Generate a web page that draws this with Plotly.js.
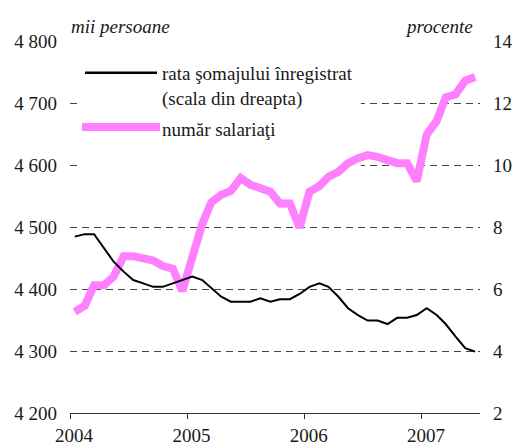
<!DOCTYPE html>
<html>
<head>
<meta charset="utf-8">
<script src="https://cdn.plot.ly/plotly-3.0.1.min.js"></script>
</head>
<body style="margin:0">
<div id="chart" style="width:516px;height:448px"></div>
<script>
// Months: Jan 2004 .. Jun 2007 (42 monthly observations)
const startYear = 2004;
const nMonths = 42;
const yearTicks = ['2004', '2005', '2006', '2007'];

// Registered unemployment rate (%, right scale)
const unemploymentRate = [
  7.69, 7.77, 7.77, 7.31, 6.88, 6.56, 6.29, 6.18, 6.07, 6.07, 6.18, 6.29,
  6.40, 6.29, 6.02, 5.75, 5.59, 5.59, 5.59, 5.70, 5.59, 5.67, 5.67, 5.84,
  6.07, 6.18, 6.07, 5.75, 5.38, 5.16, 4.98, 4.98, 4.87, 5.07, 5.07, 5.16,
  5.38, 5.16, 4.87, 4.46, 4.09, 3.98
];

// Number of employees (thousand persons, left scale)
const employees = [
  4363, 4373, 4406, 4406, 4420, 4453, 4453, 4451, 4446, 4437, 4433, 4397,
  4452, 4505, 4540, 4552, 4558, 4579, 4568, 4564, 4557, 4538, 4538, 4499,
  4557, 4566, 4581, 4589, 4603, 4611, 4616, 4613, 4608, 4603, 4603, 4574,
  4649, 4671, 4709, 4714, 4736, 4742
];

const leftTickVals = [4200, 4300, 4400, 4500, 4600, 4700, 4800];
const leftTickText = ['4 200', '4 300', '4 400', '4 500', '4 600', '4 700', '4 800'];
const rightTickVals = [2, 4, 6, 8, 10, 12, 14];

const seriesNames = ['rata şomajului înregistrat', '(scala din dreapta)', 'număr salariaţi'];

function pad(n){ return (n < 10 ? '0' : '') + n; }
const months = [];
for (let i = 0; i < nMonths; i++) {
  const y = startYear + Math.floor(i / 12);
  const m = (i % 12) + 1;
  months.push(y + '-' + pad(m) + '-16');
}

const fam = 'Times New Roman';

const traces = [
  {
    x: months, y: employees, yaxis: 'y', type: 'scatter', mode: 'lines',
    line: {color: '#ff80ff', width: 8}, name: seriesNames[2], showlegend: false,
    hoverinfo: 'skip'
  },
  {
    x: months, y: unemploymentRate, yaxis: 'y2', type: 'scatter', mode: 'lines',
    line: {color: '#000000', width: 2}, name: seriesNames[0], showlegend: false,
    hoverinfo: 'skip'
  }
];

const layout = {
  width: 516, height: 448,
  margin: {l: 70, r: 36, t: 41, b: 35},
  font: {family: fam, size: 19, color: '#1a1a1a'},
  showlegend: false,
  xaxis: {
    type: 'date',
    range: ['2004-01-01', '2007-07-01'],
    tickvals: yearTicks.map(function(y){ return y + '-01-01'; }),
    ticktext: yearTicks,
    showgrid: false, zeroline: false,
    showline: true, linecolor: '#333333', linewidth: 1,
    ticks: 'outside', ticklen: 5, tickcolor: '#333333', tickwidth: 1,
    ticklabelshift: 4
  },
  yaxis: {
    range: [4200, 4800],
    tickvals: leftTickVals, ticktext: leftTickText,
    showgrid: true, gridcolor: '#444444', gridwidth: 1, griddash: '7px,5px',
    zeroline: false, showline: false, ticks: '',
    ticklabelstandoff: 12
  },
  yaxis2: {
    range: [2, 14], overlaying: 'y', side: 'right',
    tickvals: rightTickVals,
    showgrid: false, zeroline: false, showline: false, ticks: '',
    ticklabelstandoff: 12
  },
  shapes: [
    {type: 'rect', xref: 'x', yref: 'y', layer: 'between',
     x0: '2004-02-01', x1: '2006-06-25', y0: 4580, y1: 4720,
     fillcolor: '#ffffff', line: {width: 0}},
    {type: 'line', xref: 'paper', yref: 'paper',
     x0: 0.0366, x1: 0.2122, y0: 0.9148, y1: 0.9148,
     line: {color: '#000000', width: 2.5}},
    {type: 'line', xref: 'paper', yref: 'paper',
     x0: 0.0293, x1: 0.2195, y0: 0.7688, y1: 0.7688,
     line: {color: '#ff80ff', width: 8}}
  ],
  annotations: [
    {xref: 'paper', yref: 'paper', x: -0.002, y: 1.04, xanchor: 'left', yanchor: 'middle',
     text: '<i>mii persoane</i>', showarrow: false},
    {xref: 'paper', yref: 'paper', x: 0.987, y: 1.04, xanchor: 'right', yanchor: 'middle',
     text: '<i>procente</i>', showarrow: false},
    {xref: 'paper', yref: 'paper', x: 0.2195, y: 0.912, xanchor: 'left', yanchor: 'middle',
     text: seriesNames[0], showarrow: false},
    {xref: 'paper', yref: 'paper', x: 0.2195, y: 0.845, xanchor: 'left', yanchor: 'middle',
     text: seriesNames[1], showarrow: false},
    {xref: 'paper', yref: 'paper', x: 0.2195, y: 0.762, xanchor: 'left', yanchor: 'middle',
     text: seriesNames[2], showarrow: false}
  ]
};

Plotly.newPlot('chart', traces, layout, {displayModeBar: false});
</script>
</body>
</html>
